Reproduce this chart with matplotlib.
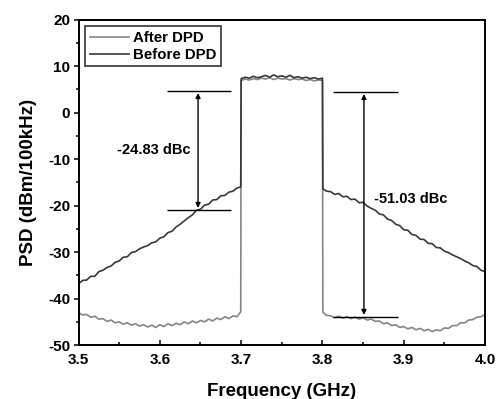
import numpy as np
import matplotlib.pyplot as plt
from matplotlib.ticker import MultipleLocator

plt.rcParams['font.family'] = ['Liberation Sans', 'DejaVu Sans']
plt.rcParams['font.weight'] = 'bold'
plt.rcParams['axes.unicode_minus'] = False

# frequency grids (GHz): lower skirt, channel, upper skirt
f_low = np.append(np.arange(3.5, 3.6951, 0.005), 3.6995)
f_band = np.arange(3.7, 3.8001, 0.005)
f_high = np.append(3.8005, np.arange(3.805, 4.0001, 0.005))

# Before DPD (dBm/100kHz)
before_low = [-36.8, -36.1, -36.0, -35.2, -35.2, -34.2, -33.9, -33.3, -33.0, -32.2,
              -31.9, -31.1, -31.0, -30.1, -29.9, -29.3, -28.9, -28.6, -28.0, -27.8,
              -27.0, -26.7, -25.8, -25.5, -24.6, -24.0, -23.3, -22.6, -22.0, -21.0,
              -20.8, -19.9, -19.7, -18.8, -18.7, -17.9, -17.8, -17.1, -16.9, -16.2,
              -16.0]
before_band = [7.3, 7.6, 7.4, 7.8, 7.5, 7.7, 8.0, 7.6, 8.1, 7.7, 7.9,
               7.6, 8.0, 7.5, 7.7, 7.4, 7.6, 7.3, 7.5, 7.2, 7.4]
before_high = [-16.4, -16.9, -17.0, -17.6, -17.4, -18.1, -18.0, -18.7, -18.6, -19.4,
               -19.3, -20.1, -20.6, -21.0, -21.8, -22.0, -22.9, -23.2, -24.0, -24.3,
               -25.2, -25.3, -26.2, -26.4, -27.2, -27.3, -28.1, -28.2, -29.0, -29.1,
               -29.8, -30.1, -30.6, -31.0, -31.4, -31.9, -32.3, -32.9, -33.1, -33.9,
               -34.2]

# After DPD (dBm/100kHz)
after_low = [-43.0, -43.5, -43.4, -44.0, -43.8, -44.4, -44.3, -44.9, -44.6, -45.2,
             -45.0, -45.5, -45.2, -45.7, -45.4, -45.9, -45.6, -46.1, -45.7, -46.2,
             -45.6, -46.0, -45.4, -45.8, -45.3, -45.6, -45.0, -45.4, -44.8, -45.2,
             -44.7, -45.0, -44.4, -44.8, -44.2, -44.5, -43.9, -44.3, -43.7, -43.9,
             -42.8]
after_band = [6.9, 7.2, 7.0, 7.3, 7.1, 7.4, 7.2, 7.5, 7.1, 7.4, 7.2,
              7.3, 7.0, 7.3, 7.1, 7.2, 6.9, 7.1, 6.8, 7.0, 6.9]
after_high = [-42.9, -43.6, -43.7, -44.1, -43.8, -44.2, -43.9, -44.3, -44.0, -44.4,
              -44.1, -44.6, -44.4, -44.9, -44.8, -45.4, -45.2, -45.8, -45.6, -46.2,
              -46.0, -46.5, -46.2, -46.7, -46.4, -46.9, -46.6, -47.1, -46.7, -46.9,
              -46.3, -46.4, -45.8, -45.8, -45.2, -45.2, -44.6, -44.5, -44.0, -43.9,
              -43.4]

freq = np.concatenate([f_low, f_band, f_high])
before = np.concatenate([before_low, before_band, before_high])
after = np.concatenate([after_low, after_band, after_high])

fig = plt.figure(figsize=(4.97, 3.99), dpi=100)
ax = fig.add_axes([0.158, 0.135, 0.818, 0.816])

ax.plot(freq, after, color='#858585', lw=1.2, label='After DPD')
ax.plot(freq, before, color='#383838', lw=1.2, label='Before DPD')

# ACLR markers
ax.hlines([4.7, -21.0], 3.609, 3.687, color='black', lw=1.0)
ax.hlines([4.5, -44.0], 3.813, 3.893, color='black', lw=1.0)
arrow = dict(arrowstyle='<|-|>', color='black', lw=1.0, mutation_scale=7,
             shrinkA=0, shrinkB=0)
ax.annotate('', xy=(3.647, 4.2), xytext=(3.647, -20.5), arrowprops=arrow)
ax.annotate('', xy=(3.851, 4.0), xytext=(3.851, -43.5), arrowprops=arrow)
ax.text(3.592, -8.1, '-24.83 dBc', ha='center', va='center', fontsize=10.5, fontweight='bold')
ax.text(3.909, -18.5, '-51.03 dBc', ha='center', va='center', fontsize=10.5, fontweight='bold')

ax.set_xlim(3.5, 4.0)
ax.set_ylim(-50, 20)
ax.xaxis.set_major_locator(MultipleLocator(0.1))
ax.xaxis.set_minor_locator(MultipleLocator(0.05))
ax.yaxis.set_major_locator(MultipleLocator(10))
ax.yaxis.set_minor_locator(MultipleLocator(5))
ax.xaxis.set_major_formatter(plt.FormatStrFormatter('%.1f'))
ax.tick_params(axis='x', which='major', direction='in', length=3.5, width=1.1,
               labelsize=11, pad=6)
ax.tick_params(axis='x', which='minor', direction='in', length=2.2, width=1.1)
ax.tick_params(axis='y', which='major', direction='out', length=3.6, width=1.1,
               labelsize=11, pad=2.5)
ax.tick_params(axis='y', which='minor', direction='out', length=2.4, width=1.1)
for lab in ax.get_xticklabels() + ax.get_yticklabels():
    lab.set_fontweight('bold')
for s in ax.spines.values():
    s.set_linewidth(1.4)

ax.set_xlabel('Frequency (GHz)', fontsize=13.5, fontweight='bold', labelpad=11)
ax.set_ylabel('PSD (dBm/100kHz)', fontsize=13.5, fontweight='bold', labelpad=8)

leg = ax.legend(loc='upper left', fontsize=10.8, frameon=True, fancybox=False,
                edgecolor='black', borderpad=0.3, labelspacing=0.2,
                handlelength=2.6, handletextpad=0.3, borderaxespad=0.45)
leg.get_frame().set_linewidth(1.2)
for t in leg.get_texts():
    t.set_fontweight('bold')

fig.savefig('out.png', dpi=100)
